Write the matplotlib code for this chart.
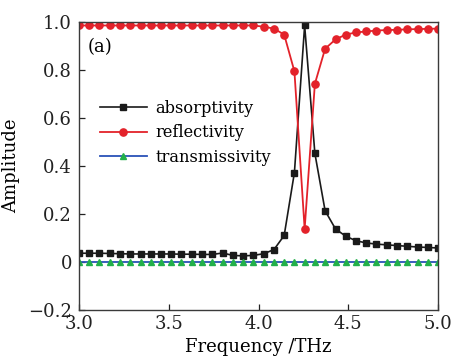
import matplotlib
matplotlib.use("Agg")
import matplotlib.pyplot as plt

# Frequency sweep (THz) at the sampled points
freq = [3.000, 3.057, 3.114, 3.171, 3.229, 3.286, 3.343, 3.400, 3.457,
        3.514, 3.571, 3.629, 3.686, 3.743, 3.800, 3.857, 3.914, 3.971,
        4.029, 4.086, 4.143, 4.200, 4.257, 4.314, 4.371, 4.429, 4.486,
        4.543, 4.600, 4.657, 4.714, 4.771, 4.829, 4.886, 4.943, 5.000]

absorptivity = [0.036, 0.036, 0.036, 0.035, 0.034, 0.033, 0.033, 0.033, 0.033,
                0.033, 0.032, 0.032, 0.031, 0.031, 0.037, 0.027, 0.025, 0.027,
                0.034, 0.051, 0.110, 0.372, 0.985, 0.452, 0.213, 0.137, 0.107,
                0.088, 0.079, 0.074, 0.071, 0.068, 0.065, 0.062, 0.060, 0.058]

reflectivity = [0.985, 0.985, 0.985, 0.985, 0.985, 0.985, 0.985, 0.985, 0.985,
                0.985, 0.985, 0.985, 0.985, 0.985, 0.985, 0.985, 0.985, 0.985,
                0.980, 0.972, 0.947, 0.794, 0.137, 0.742, 0.888, 0.927, 0.947,
                0.956, 0.960, 0.964, 0.966, 0.967, 0.969, 0.970, 0.971, 0.972]

transmissivity = [0.0] * 36

series_labels = ["absorptivity", "reflectivity", "transmissivity"]
x_ticks = [3.0, 3.5, 4.0, 4.5, 5.0]
x_tick_labels = ["3.0", "3.5", "4.0", "4.5", "5.0"]
y_ticks = [-0.2, 0.0, 0.2, 0.4, 0.6, 0.8, 1.0]
y_tick_labels = ["\u22120.2", "0", "0.2", "0.4", "0.6", "0.8", "1.0"]

plt.rcParams["font.family"] = ["DejaVu Serif"]
plt.rcParams["mathtext.fontset"] = "dejavuserif"

fig = plt.figure(figsize=(4.54, 3.57), dpi=100)
ax = fig.add_axes([0.174, 0.132, 0.7908, 0.8067])

ax.plot(freq, absorptivity, color="#1a1a1a", lw=1.2, marker="s",
        markersize=4.4, label=series_labels[0])
ax.plot(freq, reflectivity, color="#e3222a", lw=1.3, marker="o",
        markersize=5.2, label=series_labels[1])
ax.plot(freq, transmissivity, color="#2a52b8", lw=1.3, marker="^",
        markersize=5.0, markerfacecolor="#22b04a", markeredgecolor="#22b04a",
        label=series_labels[2])

ax.set_xlim(3.0, 5.0)
ax.set_ylim(-0.2, 1.0)
ax.set_xticks(x_ticks)
ax.set_xticklabels(x_tick_labels)
ax.set_yticks(y_ticks)
ax.set_yticklabels(y_tick_labels)
ax.tick_params(direction="in", length=4, width=0.9, labelsize=13,
               top=False, right=False, colors="#222222")
ax.tick_params(axis="x", pad=3.5)
ax.tick_params(axis="y", pad=5)
for sp in ax.spines.values():
    sp.set_color("#3a3a3a")
    sp.set_linewidth(1.0)

ax.set_xlabel("Frequency /THz", fontsize=13, labelpad=4)
ax.set_ylabel("Amplitude", fontsize=13, labelpad=6)

ax.text(0.025, 0.913, "(a)", transform=ax.transAxes, fontsize=13,
        ha="left", va="center")

ax.legend(loc="upper left", bbox_to_anchor=(0.058, 0.73), frameon=False,
          fontsize=11.7, handlelength=2.9, handletextpad=0.5,
          labelspacing=0.47, borderpad=0, borderaxespad=0)

fig.savefig("out.png", dpi=100)
